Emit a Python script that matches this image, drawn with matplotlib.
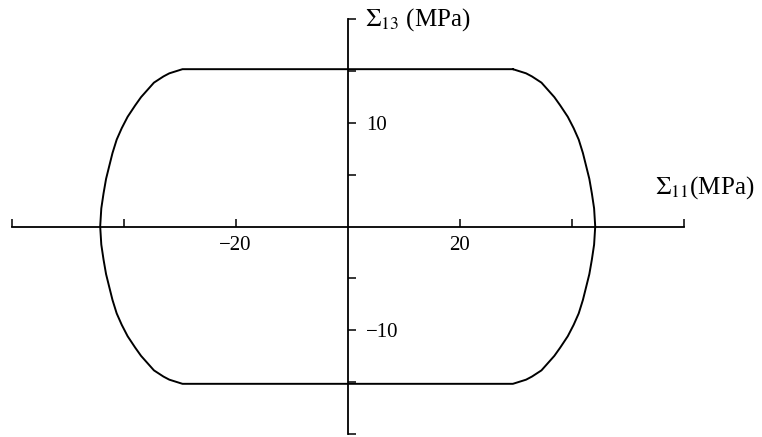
import matplotlib
matplotlib.use("Agg")
import matplotlib.pyplot as plt
import numpy as np

plt.rcParams['font.family'] = ['Liberation Serif', 'DejaVu Serif']
plt.rcParams['mathtext.fontset'] = 'stix'

# quarter of the yield curve (x >= 0, y >= 0), top -> axis
arc_x = [29.5, 31.85, 32.9, 34.6, 36.9, 37.95, 39.3, 40.35, 41.25, 42.0, 42.6, 43.15, 43.6, 44.0, 44.2]
arc_y = [15.2, 14.8, 14.5, 13.9, 12.5, 11.7, 10.6, 9.5, 8.4, 7.1, 5.8, 4.6, 3.2, 1.75, 0.0]

xticks = [-60, -40, -20, 20, 40, 60]
xtick_labels = ['', '', '\u221220', '20', '', '']
yticks = [-20, -15, -10, -5, 5, 10, 15, 20]
ytick_labels = ['', '', '\u221210', '', '', '10', '', '']

# curve is symmetric about both axes: build the closed loop clockwise
qx = np.array(arc_x)
qy = np.array(arc_y)
cx = np.concatenate([qx, qx[::-1][1:], -qx, -qx[::-1][1:]])
cy = np.concatenate([qy, -qy[::-1][1:], -qy, qy[::-1][1:]])
cx = np.append(cx, cx[0])
cy = np.append(cy, cy[0])

fig = plt.figure(figsize=(7.62, 4.37), dpi=100)
ax = fig.add_axes([11.7 / 762, 3.5 / 437, 672 / 762, 414 / 437])
ax.plot(cx, cy, color='black', lw=1.4, solid_joinstyle='round')

ax.set_xlim(-60, 60)
ax.set_ylim(-20, 20)

for s in ['top', 'right']:
    ax.spines[s].set_visible(False)
ax.spines['left'].set_position(('data', 0))
ax.spines['bottom'].set_position(('data', 0))
ax.spines['left'].set_linewidth(1.3)
ax.spines['bottom'].set_linewidth(1.3)

ax.set_xticks(xticks)
ax.set_xticklabels(xtick_labels)
ax.set_yticks(yticks)
ax.set_yticklabels(ytick_labels)
ax.tick_params(axis='x', direction='in', length=6, width=1.1, pad=7, labelsize=15)
ax.tick_params(axis='y', direction='in', length=6, width=1.1, pad=-13, labelsize=15)
for lab in ax.get_yticklabels():
    lab.set_horizontalalignment('left')

ax.text(3.1, 20.0, r'$\Sigma_{13}$ (MPa)', fontsize=18, ha='left', va='center')
ax.text(54.9, 3.8, r'$\Sigma_{11}$(MPa)', fontsize=18, ha='left', va='center')

fig.savefig('out.png', dpi=100)
